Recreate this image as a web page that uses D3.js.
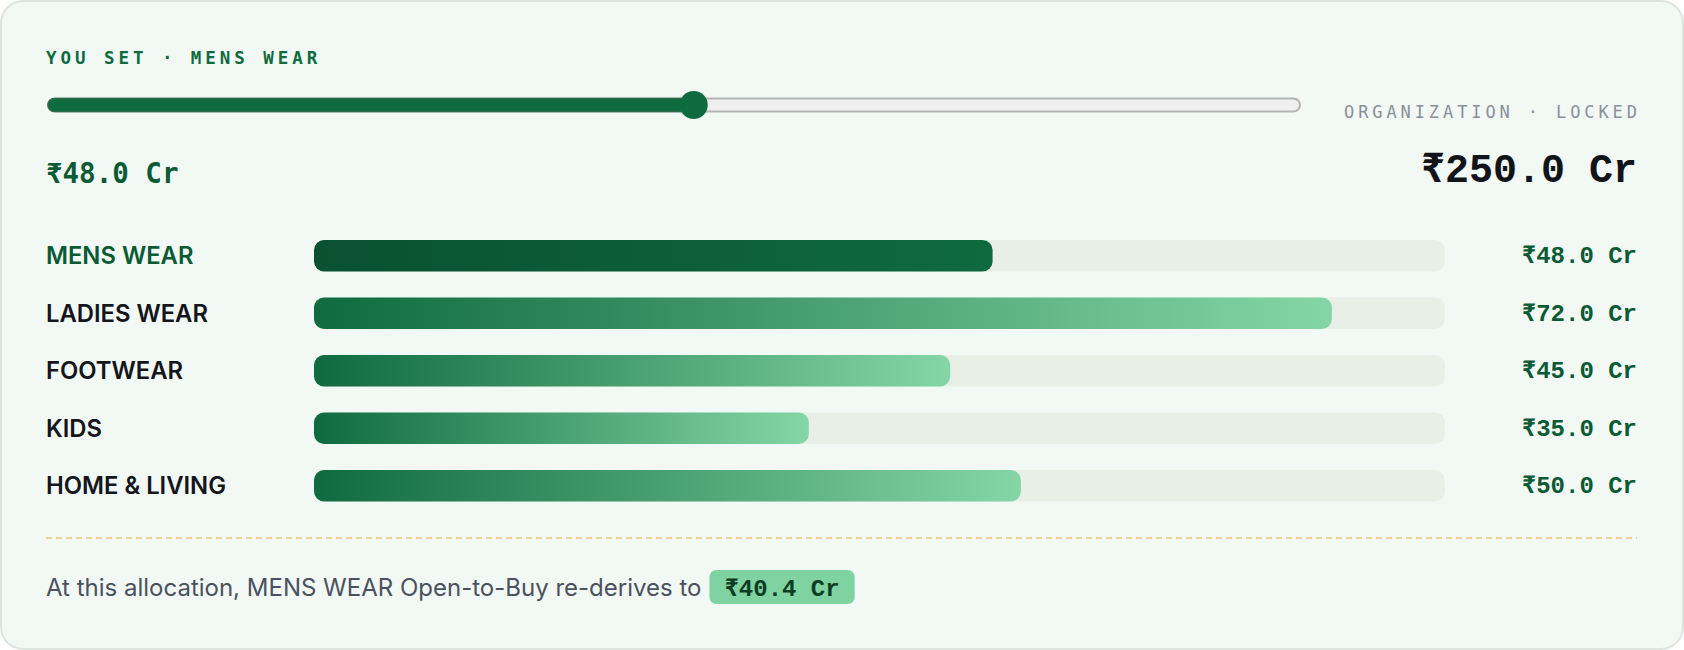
<!DOCTYPE html>
<html>
<head>
<meta charset="utf-8">
<script src="https://cdn.jsdelivr.net/npm/d3@7"></script>
<style>
  html, body { margin: 0; padding: 0; background: #ffffff; }
  svg { display: block; }
</style>
</head>
<body>
<svg id="chart" width="1684" height="650"></svg>
<script>
// ---- data ----
const categories = ["MENS WEAR", "LADIES WEAR", "FOOTWEAR", "KIDS", "HOME & LIVING"];
const values = [48.0, 72.0, 45.0, 35.0, 50.0];
const selectedCategory = "MENS WEAR";
const selectedValue = 48.0;
const organizationTotal = 250.0;
const openToBuy = 40.4;
const barDomain = [0, 80];
const sliderDomain = [0, 93];
const eyebrowText = "YOU SET · MENS WEAR";
const lockedText = "ORGANIZATION · LOCKED";
const footerText = "At this allocation, MENS WEAR Open-to-Buy re-derives to";

const fmt = v => "₹" + d3.format(".1f")(v) + " Cr";

// ---- drawing ----
const W = 1684, H = 650;
const svg = d3.select("#chart");
const defs = svg.append("defs");

const monoFont = "'Liberation Mono', 'DejaVu Sans Mono', monospace";
const labelMono = "'DejaVu Sans Mono', monospace";
const sansFont = "Inter, 'Noto Sans', sans-serif";

// card
svg.append("rect")
  .attr("x", 1).attr("y", 1).attr("width", W - 2).attr("height", H - 2)
  .attr("rx", 22).attr("fill", "#f2f8f3").attr("stroke", "#dde4df").attr("stroke-width", 2);

const left = 46, right = 1637;

// eyebrow
svg.append("text")
  .attr("x", left).attr("y", 63.5)
  .attr("font-family", labelMono).attr("font-weight", 700).attr("font-size", 17.5)
  .attr("letter-spacing", 3.95).attr("fill", "#0e6b40")
  .text(eyebrowText);

// slider
const sx0 = 48, sx1 = 1300, knobR = 14;
const sliderScale = d3.scaleLinear().domain(sliderDomain).range([sx0 + knobR, sx1 - knobR]);
const knobX = sliderScale(selectedValue);
const trackY = 98.5, trackH = 13;
svg.append("rect")
  .attr("x", sx0).attr("y", trackY).attr("width", sx1 - sx0).attr("height", trackH)
  .attr("rx", trackH / 2).attr("fill", "#efefef").attr("stroke", "#b3b3b3").attr("stroke-width", 2);
svg.append("rect")
  .attr("x", sx0).attr("y", trackY).attr("width", knobX - sx0).attr("height", trackH)
  .attr("rx", trackH / 2).attr("fill", "#0e6b40").attr("stroke", "#2c6b48").attr("stroke-width", 1.5);
svg.append("circle")
  .attr("cx", knobX).attr("cy", trackY + trackH / 2).attr("r", knobR)
  .attr("fill", "#0e6b40");

// locked label
const lockedLS = 3.9;
svg.append("text")
  .attr("x", right + lockedLS).attr("y", 117.5)
  .attr("text-anchor", "end")
  .attr("font-family", labelMono).attr("font-size", 17)
  .attr("letter-spacing", lockedLS).attr("fill", "#8a909a")
  .text(lockedText);

// selected value & total
svg.append("text")
  .attr("x", left).attr("y", 183)
  .attr("font-family", labelMono).attr("font-weight", 700).attr("font-size", 27.5)
  .attr("fill", "#0b5a36")
  .text(fmt(selectedValue));

svg.append("text")
  .attr("x", right).attr("y", 182)
  .attr("text-anchor", "end")
  .attr("font-family", monoFont).attr("font-weight", 700).attr("font-size", 40)
  .attr("fill", "#111418")
  .text(fmt(organizationTotal));

// bars
const x = d3.scaleLinear().domain(barDomain).range([314, 1445]);
const y = d3.scaleBand().domain(categories)
  .range([240, 240 + 57.5 * (5 - 26 / 57.5)])
  .paddingInner(26 / 57.5).paddingOuter(0);

const gSel = defs.append("linearGradient").attr("id", "gradSel");
gSel.append("stop").attr("offset", "0%").attr("stop-color", "#0a5130");
gSel.append("stop").attr("offset", "100%").attr("stop-color", "#0f6a40");
const gOther = defs.append("linearGradient").attr("id", "gradOther");
gOther.append("stop").attr("offset", "0%").attr("stop-color", "#0f6b3f");
gOther.append("stop").attr("offset", "100%").attr("stop-color", "#84d6a6");

const data = categories.map((c, i) => ({ c, v: values[i] }));
const rows = svg.append("g").selectAll("g").data(data).join("g");

rows.append("rect")
  .attr("x", x(barDomain[0])).attr("y", d => y(d.c))
  .attr("width", x(barDomain[1]) - x(barDomain[0])).attr("height", y.bandwidth())
  .attr("rx", 10).attr("fill", "#e8efe7");

rows.append("rect")
  .attr("x", x(0)).attr("y", d => y(d.c))
  .attr("width", d => x(d.v) - x(0)).attr("height", y.bandwidth())
  .attr("rx", 10)
  .attr("fill", d => d.c === selectedCategory ? "url(#gradSel)" : "url(#gradOther)");

rows.append("text")
  .attr("x", left).attr("y", d => y(d.c) + y.bandwidth() / 2 + 8.5)
  .attr("font-family", sansFont).attr("font-weight", 600).attr("font-size", 23.8)
  .attr("fill", d => d.c === selectedCategory ? "#0b5a36" : "#14161c")
  .text(d => d.c);

rows.append("text")
  .attr("x", right).attr("y", d => y(d.c) + y.bandwidth() / 2 + 7.5)
  .attr("text-anchor", "end")
  .attr("font-family", monoFont).attr("font-weight", 700).attr("font-size", 24)
  .attr("fill", "#0b5a36")
  .text(d => fmt(d.v));

// divider
svg.append("line")
  .attr("x1", left).attr("x2", right).attr("y1", 538).attr("y2", 538)
  .attr("stroke", "#e9d293").attr("stroke-width", 1.8).attr("stroke-dasharray", "6 4");

// footer
const ft = svg.append("text")
  .attr("x", left).attr("y", 596)
  .attr("font-family", sansFont).attr("font-size", 24)
  .attr("fill", "#4a5160")
  .text(footerText);
const ftEnd = left + ft.node().getComputedTextLength();
const pillX = ftEnd + 8;
const pill = svg.append("g");
const pt = pill.append("text")
  .attr("x", pillX + 15).attr("y", 596)
  .attr("font-family", monoFont).attr("font-weight", 700).attr("font-size", 24)
  .attr("fill", "#0b3d24")
  .text(fmt(openToBuy));
const ptW = pt.node().getComputedTextLength();
pill.insert("rect", "text")
  .attr("x", pillX).attr("y", 570).attr("width", ptW + 30).attr("height", 34)
  .attr("rx", 7).attr("fill", "#7fd3a1");
</script>
</body>
</html>
